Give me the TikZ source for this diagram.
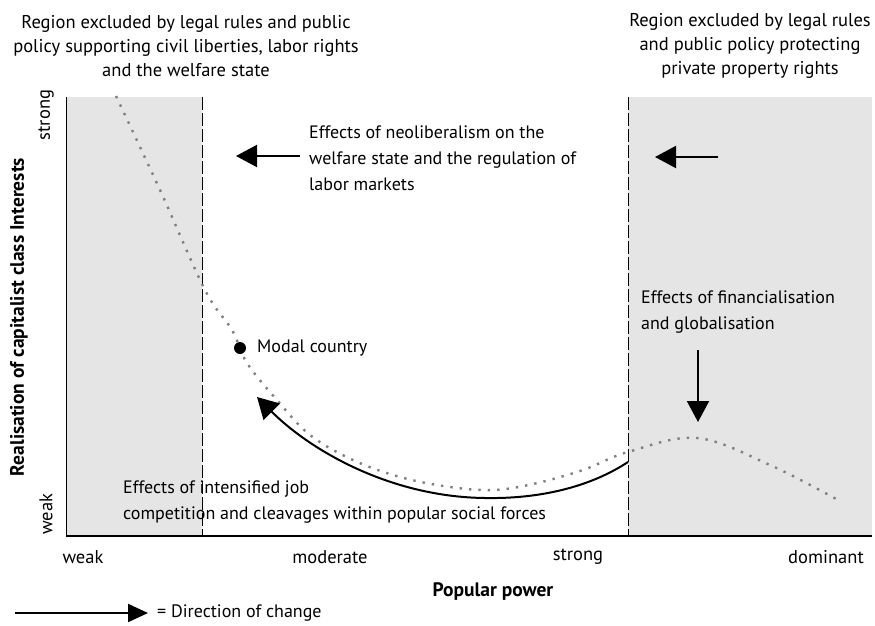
\documentclass[tikz,border=0pt]{standalone}
\usepackage{fontspec}
\setmainfont{PT Sans}
\usetikzlibrary{arrows.meta}
\begin{document}
\begin{tikzpicture}[x=1pt,y=-1pt,
  txt/.style={inner sep=0pt, font=\fontsize{18.5}{24}\selectfont, align=center},
  lab/.style={inner sep=0pt, font=\fontsize{18}{26}\selectfont, align=left},
  tick/.style={inner sep=0pt, font=\fontsize{18.5}{20}\selectfont},
  bold/.style={inner sep=0pt, font=\fontsize{19.5}{22}\selectfont\bfseries},
  shade/.style={fill=black!10, draw=none},
  divider/.style={line width=0.8pt, dash pattern=on 13pt off 3pt},
  bigarrow/.style={line width=2pt, -{Triangle[length=21pt,width=22pt]}},
  dottedcurve/.style={black!50, line width=2.4pt, dash pattern=on 2.4pt off 7pt},
]
\useasboundingbox (0,0) rectangle (875,626);
% shaded regions
\fill[shade] (66,97) rectangle (202,536);
\fill[shade] (628,97) rectangle (872,536);
% dividers
\coordinate (d1t) at (202,97); \coordinate (d1b) at (202,536);
\coordinate (d2t) at (628,97); \coordinate (d2b) at (628,536);
\draw[divider] (d1t) -- (d1b);
\draw[divider] (d2t) -- (d2b);
% axes
\coordinate (origin) at (66,536);
\coordinate (ytop) at (66,97);
\coordinate (xend) at (872,536);
\draw[line width=1pt] (origin) -- (ytop);
\draw[line width=1.5pt] (origin) -- (xend);
% top texts
\node[txt] (topleft) at (186,46) {Region excluded by legal rules and public\\policy supporting civil liberties, labor rights\\and the welfare state};
\node[txt] (topright) at (750,46) {Region excluded by legal rules\\and public policy protecting\\private property rights};
% axis labels
\node[bold, rotate=90] (ylab) at (19,317) {Realisation of capitalist class Interests};
\node[tick, rotate=90] (ystrong) at (46,115) {strong};
\node[tick, rotate=90] (yweak) at (46,514) {weak};
\node[tick] (xweak) at (83,557) {weak};
\node[tick] (xmod) at (330,557) {moderate};
\node[tick] (xstrong) at (578,557) {strong};
\node[tick] (xdom) at (826,557) {dominant};
\node[bold] (xlab) at (493,592) {Popular power};
% neoliberalism
\node[lab, anchor=west] (neo) at (309,158) {Effects of neoliberalism on the\\welfare state and the regulation of\\labor markets};
\coordinate (na1) at (300,156);
\coordinate (na2) at (236,156);
\draw[bigarrow] (na1) -- (na2);
\coordinate (nb1) at (718,157);
\coordinate (nb2) at (655,157);
\draw[bigarrow] (nb1) -- (nb2);
% financialisation
\node[lab, anchor=west] (fin) at (641,312) {Effects of financialisation\\and globalisation};
\coordinate (fa1) at (698,350);
\coordinate (fa2) at (698,422);
\draw[bigarrow] (fa1) -- (fa2);
% dotted curve
\draw[dottedcurve] plot[smooth, tension=0.6] coordinates {(116,96) (160,190) (205,290) (232,330) (247,363) (277,400) (310,435) (353,460) (400,477) (450,487) (493,490) (533,484) (583,470) (628,452) (697,438) (770,465) (838,500)};
% modal country
\node[circle, fill=black, inner sep=0pt, minimum size=12pt] (modal) at (240,348) {};
\node[lab, anchor=west] (modaltxt) at (257,348) {Modal country};
% solid curved arrow
\coordinate (ca1) at (628,462);
\coordinate (ca2) at (257,397);
\draw[line width=2pt, -{Triangle[length=21pt,width=23pt]}] (ca1) .. controls (590,487) and (540,499) .. (485,498) .. controls (390,497) and (310,450) .. (ca2);
% intensified job
\node[lab, anchor=west] (job) at (123,502) {Effects of intensified job\\competition and cleavages within popular social forces};
% legend
\coordinate (lg1) at (15,613);
\coordinate (lg2) at (148,613);
\draw[line width=2pt, -{Triangle[length=20pt,width=18pt]}] (lg1) -- (lg2);
\node[lab, anchor=west] (legend) at (157,613) {= Direction of change};
\end{tikzpicture}
\end{document}
